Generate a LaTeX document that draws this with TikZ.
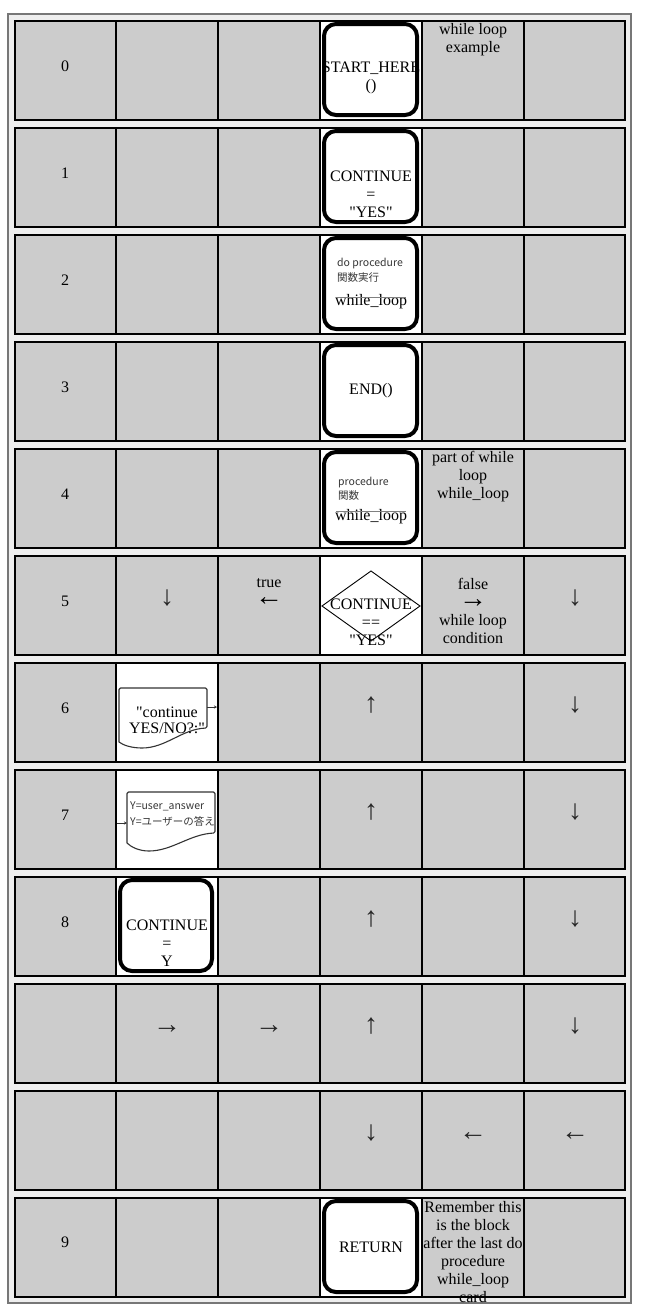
\documentclass[tikz,border=0pt]{standalone}
\usepackage{fontspec}
\setmainfont{Liberation Serif}[Ligatures=TeXOff]
\newfontfamily\jpfont{Noto Sans CJK JP}[Ligatures=TeXOff]
\usetikzlibrary{arrows.meta}
\definecolor{cellgray}{RGB}{204,204,204}
\definecolor{gapgray}{RGB}{238,238,238}
\definecolor{framegray}{RGB}{119,119,119}
\definecolor{smallgray}{RGB}{55,55,55}
\newcommand\inarrow[1]{\smash{\fontsize{28}{18}\selectfont #1}}
\tikzset{
 txt/.style={inner sep=0pt, align=center, font=\fontsize{16}{18}\selectfont},
 smalltxt/.style={inner sep=0pt, anchor=west, text=smallgray, font=\jpfont\fontsize{10.5}{13}\selectfont},
 glyph/.style={inner sep=0pt, text=black!85, font=\fontsize{28}{18}\selectfont, text height=9pt, text depth=-5pt},
 cardbox/.style={draw=black, line width=4pt, rounded corners=12pt},
 cellline/.style={draw=black, line width=2pt},
 docline/.style={draw=black!80, line width=1.1pt, line join=round},
 tinyarrow/.style={-{Stealth[length=3pt,width=3pt]}, line width=0.9pt, black!80},
 fieldline/.style={draw=gray, line width=0.6pt},
}
\begin{document}
\begin{tikzpicture}[x=1pt,y=-1pt]
\useasboundingbox (0,0) rectangle (661,1307);
\fill[white] (0,0) rectangle (661,1307);
\filldraw[fill=gapgray, draw=framegray, line width=1.3pt] (8,14) rectangle (631,1303);
% cell fills
\foreach \r in {0,...,11}{
 \fill[cellgray] (14,{20+107*\r}) rectangle (626,{121+107*\r});
}
\foreach \r/\c in {0/3,1/3,2/3,3/3,4/3,5/3,11/3,6/1,7/1,8/1}{
 \fill[white] ({14+102*\c},{20+107*\r}) rectangle ({116+102*\c},{121+107*\r});
}
% diamond
\coordinate (dl) at (322,606);
\coordinate (dt) at (371,571);
\coordinate (dr) at (420,606);
\coordinate (db) at (371,641);
\draw[black, line width=0.9pt] (dl) -- (dt) -- (dr) -- (db) -- cycle;
% document shapes
\draw[docline, rounded corners=1.5pt] (119,742) -- (119,688) -- (207,688) -- (207,728) [sharp corners]
  .. controls (182,729) and (166,748) .. (142,748) .. controls (131,748) and (123,745) .. (119,742);
\draw[docline, rounded corners=1.5pt] (127,843) -- (127,792) -- (215,792) -- (215,833) [sharp corners]
  .. controls (190,834) and (172,851) .. (149,851) .. controls (139,851) and (131,847) .. (127,843);
\coordinate (o6) at (207,707);
\coordinate (o6e) at (217,707);
\draw[tinyarrow] (o6) -- (o6e);
\coordinate (i7s) at (117,823);
\coordinate (i7) at (127,823);
\draw[tinyarrow] (i7s) -- (i7);
% row labels
\foreach \r in {0,...,8}{
 \node[txt] (lab\r) at (65,{66+107*\r}) {\r};
}
\node[txt] (lab9) at (65,1242) {9};
% row 0
\node[txt] (start) at (371,78) {START\_HERE\\()};
\node[txt] (title) at (473,40) {while loop\\example};
% row 1
\node[txt] (cont) at (371,194.5) {CONTINUE\\=\\"YES"};
% row 2
\node[smalltxt] (do2) at (337,264) {do procedure};
\node[smalltxt] (jp2) at (337,278) {関数実行};
\node[txt] (wl2) at (371,302) {while\_loop};
\draw[fieldline] (336,297) -- (406,297);
% row 3
\node[txt] (end) at (371,391) {END()};
% row 4
\node[smalltxt] (pr4) at (338,483) {procedure};
\node[smalltxt] (jp4) at (338,496) {関数};
\node[txt] (wl4) at (371,517) {while\_loop};
\draw[fieldline] (336,511) -- (406,511);
\node[txt] (part) at (473,477) {part of while\\loop\\while\_loop};
% row 5
\node[glyph] (a5a) at (167,601) {↓};
\node[txt] (true) at (269,592) {true\\\inarrow{←}};
\node[txt] (cond) at (371,622.5) {CONTINUE\\==\\"YES"};
\node[txt] (false) at (473,611) {false\\\inarrow{→}\\while loop\\condition};
\node[glyph] (a5b) at (575,601) {↓};
% row 6
\node[txt, font=\fontsize{16}{16}\selectfont] (ask) at (167,720) {"continue\\YES/NO?:"};
\node[glyph] (a6a) at (371,708) {↑};
\node[glyph] (a6b) at (575,708) {↓};
% row 7
\node[smalltxt] (ua) at (130,806) {Y=user\_answer};
\node[smalltxt] (uajp) at (130,821) {Y=ユーザーの答え};
\node[glyph] (a7a) at (371,815) {↑};
\node[glyph] (a7b) at (575,815) {↓};
% row 8
\node[txt] (cy) at (167,943) {CONTINUE\\=\\Y};
\node[glyph] (a8a) at (371,922) {↑};
\node[glyph] (a8b) at (575,922) {↓};
% row 9 (blank label)
\node[glyph] (a9a) at (167,1029) {→};
\node[glyph] (a9b) at (269,1029) {→};
\node[glyph] (a9c) at (371,1029) {↑};
\node[glyph] (a9d) at (575,1029) {↓};
% row 10 (blank label)
\node[glyph] (a10a) at (371,1136) {↓};
\node[glyph] (a10b) at (473,1136) {←};
\node[glyph] (a10c) at (575,1136) {←};
% row 11
\node[txt] (ret) at (371,1247) {RETURN};
\node[txt] (rem) at (473,1252) {Remember this\\is the block\\after the last do\\procedure\\while\_loop\\card};
% cell borders
\foreach \r in {0,...,11}{
 \draw[cellline] (15,{21+107*\r}) rectangle (625,{120+107*\r});
 \foreach \x in {116,218,320,422,524}{
  \draw[cellline] (\x,{21+107*\r}) -- (\x,{120+107*\r});
 }
}
% rounded card boxes
\foreach \r in {0,1,2,3,4,11}{
 \draw[cardbox] (324,{20+107*\r+4}) rectangle (417,{20+107*\r+95});
}
\draw[cardbox] (120,880) rectangle (212,971);
\end{tikzpicture}
\end{document}
